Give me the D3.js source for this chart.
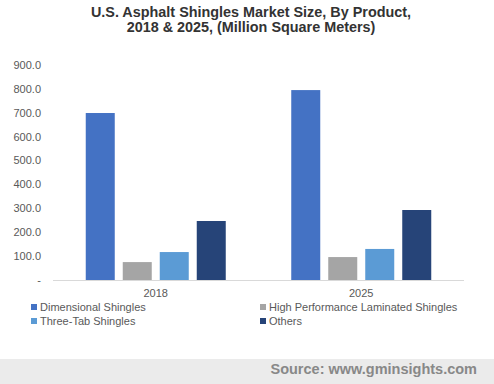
<!DOCTYPE html>
<html>
<head>
<meta charset="utf-8">
<script src="https://cdn.jsdelivr.net/npm/d3@7.9.0/dist/d3.min.js"></script>
<style>
  body { margin: 0; background: #fff; }
  svg text { font-family: "Liberation Sans", Arial, sans-serif; }
</style>
</head>
<body>
<svg id="chart" width="494" height="384"></svg>
<script>
const years = ['2018', '2025'];
const products = ['Dimensional Shingles', 'High Performance Laminated Shingles', 'Three-Tab Shingles', 'Others'];
const dimensional = [699, 795];
const highPerf = [75, 96];
const threeTab = [117, 130];
const others = [247, 293];
const yTicks = [0, 100, 200, 300, 400, 500, 600, 700, 800, 900];
const colors = ['#4472c4', '#a5a5a5', '#5b9bd5', '#264478'];

const series = [dimensional, highPerf, threeTab, others];

const svg = d3.select('#chart');

// title
svg.append('text').attr('x', 251).attr('y', 17).attr('text-anchor', 'middle')
  .attr('font-size', 14.4).attr('font-weight', 'bold').attr('fill', '#333')
  .text('U.S. Asphalt Shingles Market Size, By Product,');
svg.append('text').attr('x', 251).attr('y', 32).attr('text-anchor', 'middle')
  .attr('font-size', 14.4).attr('font-weight', 'bold').attr('fill', '#333')
  .text('2018 & 2025, (Million Square Meters)');

const y = d3.scaleLinear().domain([0, 900]).range([280, 65]);
const x0 = d3.scaleBand().domain(years).range([53, 464]);
const groupW = 140;
const x1 = d3.scaleBand().domain(d3.range(products.length))
  .range([(x0.bandwidth() - groupW) / 2, (x0.bandwidth() + groupW) / 2])
  .paddingInner(8 / 37);

// y tick labels
svg.append('g').selectAll('text').data(yTicks).join('text')
  .attr('x', 41).attr('y', d => y(d)).attr('dy', '0.35em')
  .attr('text-anchor', 'end').attr('font-size', 11).attr('fill', '#595959')
  .text(d => d === 0 ? '-' : d.toFixed(1));

// bars
const groups = svg.append('g').selectAll('g').data(years).join('g')
  .attr('transform', d => `translate(${x0(d)},0)`);
groups.selectAll('rect')
  .data((d, i) => series.map((s, k) => ({ k, v: s[i] })))
  .join('rect')
  .attr('x', d => x1(d.k))
  .attr('width', x1.bandwidth())
  .attr('y', d => y(d.v))
  .attr('height', d => y(0) - y(d.v))
  .attr('fill', d => colors[d.k]);

// baseline
svg.append('line').attr('x1', 53).attr('x2', 464).attr('y1', 280.5).attr('y2', 280.5)
  .attr('stroke', '#d9d9d9').attr('stroke-width', 1);

// category labels
svg.append('g').selectAll('text').data(years).join('text')
  .attr('x', d => x0(d) + x0.bandwidth() / 2).attr('y', 297)
  .attr('text-anchor', 'middle').attr('font-size', 11).attr('fill', '#595959')
  .text(d => d);

// legend
const legendPos = [[31, 307], [260, 307], [31, 321], [260, 321]];
const leg = svg.append('g').selectAll('g').data(products).join('g')
  .attr('transform', (d, i) => `translate(${legendPos[i][0]},${legendPos[i][1]})`);
leg.append('rect').attr('x', 0).attr('y', -3).attr('width', 6).attr('height', 6)
  .attr('fill', (d, i) => colors[i]);
leg.append('text').attr('x', 9).attr('dy', '0.35em').attr('font-size', 11)
  .attr('fill', '#595959').text(d => d);

// source band
svg.append('rect').attr('x', 0).attr('y', 359).attr('width', 494).attr('height', 25).attr('fill', '#ebebeb');
svg.append('text').attr('x', 477).attr('y', 374).attr('text-anchor', 'end')
  .attr('font-size', 14.5).attr('font-weight', 'bold').attr('fill', '#888')
  .text('Source: www.gminsights.com');
</script>
</body>
</html>
